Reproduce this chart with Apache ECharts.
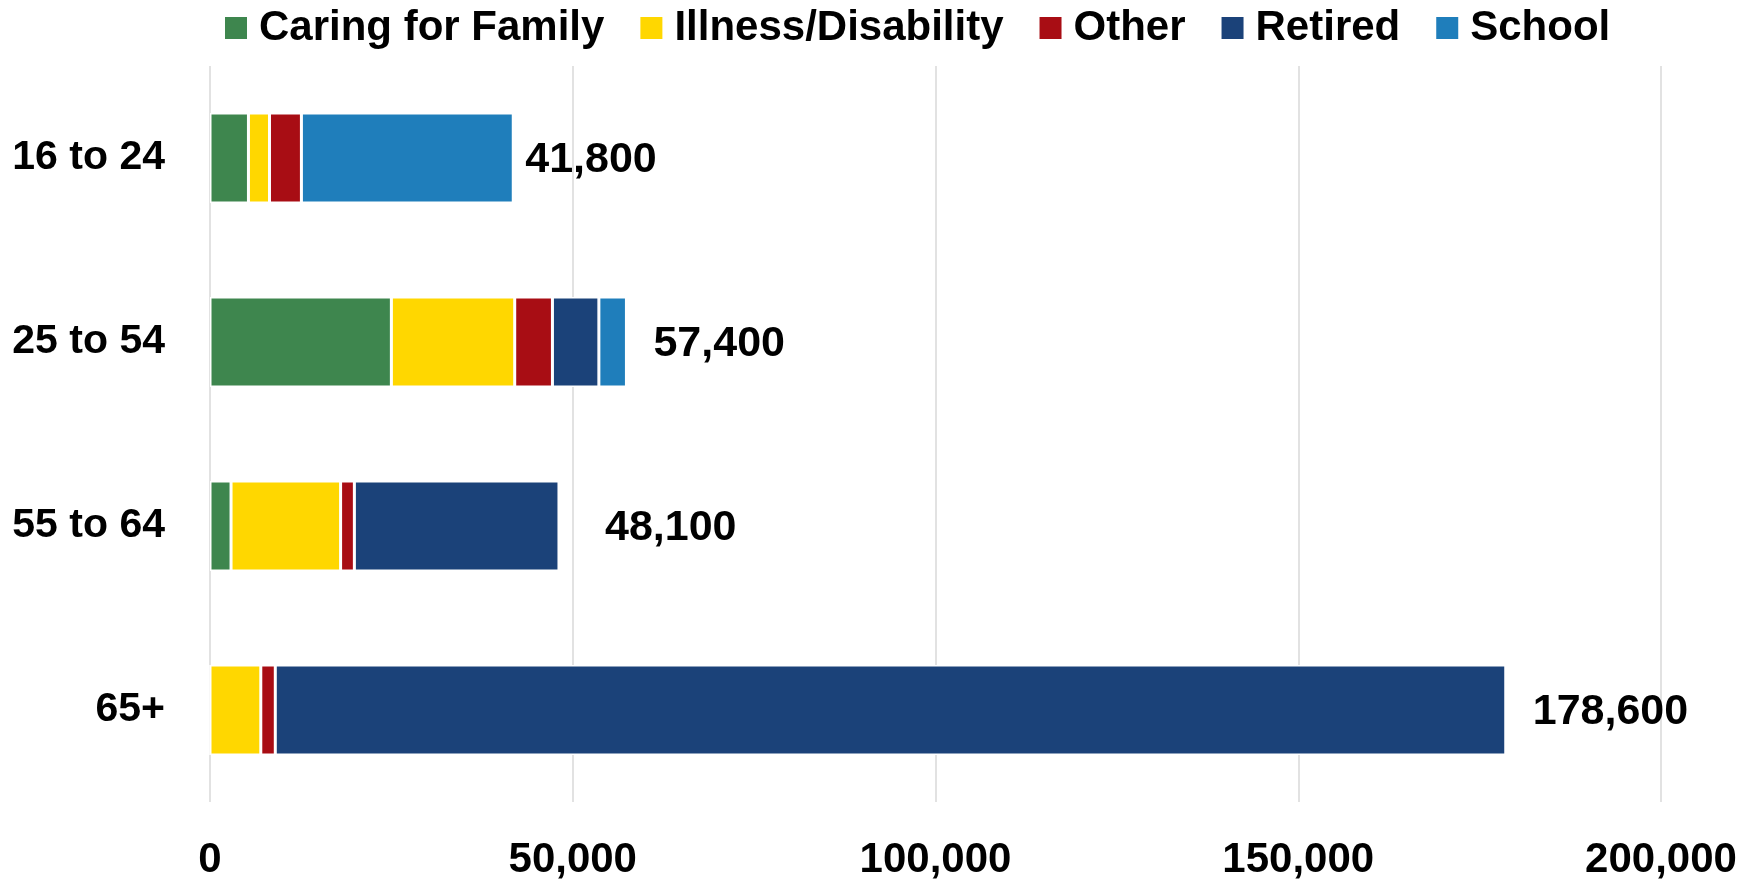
<!DOCTYPE html>
<html>
<head>
<meta charset="utf-8">
<title>Not in labour force by age</title>
<script src="https://cdn.jsdelivr.net/npm/echarts@6/dist/echarts.min.js"></script>
<style>
  html, body { margin: 0; padding: 0; background: #fff; }
  #chart { width: 1760px; height: 882px; }
</style>
</head>
<body>
<div id="chart"></div>
<script>
  // categories and values
  var ageGroups = ['16 to 24', '25 to 54', '55 to 64', '65+'];
  var caringForFamily = [5300, 25000, 2900, 0];
  var illnessDisability = [2900, 17000, 15100, 7000];
  var other = [4400, 5200, 1900, 2000];
  var retired = [0, 6400, 28200, 169600];
  var school = [29200, 3800, 0, 0];
  var totals = [41800, 57400, 48100, 178600];
  var xTicks = [0, 50000, 100000, 150000, 200000];

  var font = '"Liberation Sans", Arial, sans-serif';
  // label gap after each bar, like the original
  var labelGap = [12, 27, 46, 27];

  var chart = echarts.init(document.getElementById('chart'));

  function barSeries(name, values, color) {
    return {
      name: name,
      type: 'bar',
      stack: 'total',
      barWidth: '49%',
      z: 3,
      data: values,
      itemStyle: { color: color, borderColor: '#fff', borderWidth: 1.5 }
    };
  }

  var option = {
    animation: false,
    textStyle: { fontFamily: font, color: '#000' },
    legend: {
      top: 2,
      left: 218,
      itemWidth: 24,
      itemHeight: 24,
      itemGap: 34,
      icon: 'rect',
      data: ['Caring for Family', 'Illness/Disability', 'Other', 'Retired', 'School'],
      textStyle: { fontSize: 42, fontWeight: 'bold', color: '#000', fontFamily: font, padding: [0, 0, 0, 6] }
    },
    grid: { left: 210, right: 99, top: 66, bottom: 80 },
    xAxis: {
      type: 'value',
      min: xTicks[0],
      max: xTicks[xTicks.length - 1],
      interval: xTicks[1] - xTicks[0],
      axisLine: { show: false },
      axisTick: { show: false },
      splitLine: { lineStyle: { color: '#d9d9d9', width: 1.5 } },
      axisLabel: {
        margin: 37,
        fontSize: 42,
        fontWeight: 'bold',
        color: '#000',
        formatter: function (v) { return v.toLocaleString('en-US'); }
      }
    },
    yAxis: {
      type: 'category',
      inverse: true,
      data: ageGroups,
      axisLine: { show: false },
      axisTick: { show: false },
      axisLabel: { margin: 45, fontSize: 41, fontWeight: 'bold', color: '#000' }
    },
    series: [
      barSeries('Caring for Family', caringForFamily, '#3E864E'),
      barSeries('Illness/Disability', illnessDisability, '#FFD700'),
      barSeries('Other', other, '#A80D14'),
      barSeries('Retired', retired, '#1B4279'),
      barSeries('School', school, '#1F7EBB'),
      {
        // hidden bar behind the stack, only carries the total labels
        name: 'Total',
        type: 'bar',
        barWidth: '49%',
        barGap: '-100%',
        z: 1,
        silent: true,
        itemStyle: { color: 'rgba(255,255,255,0)' },
        data: totals.map(function (t, i) {
          return { value: t, label: { distance: labelGap[i] } };
        }),
        label: {
          show: true,
          position: 'right',
          offset: [0, 2],
          fontSize: 43,
          fontWeight: 'bold',
          color: '#000',
          textBorderWidth: 0,
          formatter: function (p) { return p.value.toLocaleString('en-US'); }
        }
      }
    ]
  };

  chart.setOption(option);
</script>
</body>
</html>
